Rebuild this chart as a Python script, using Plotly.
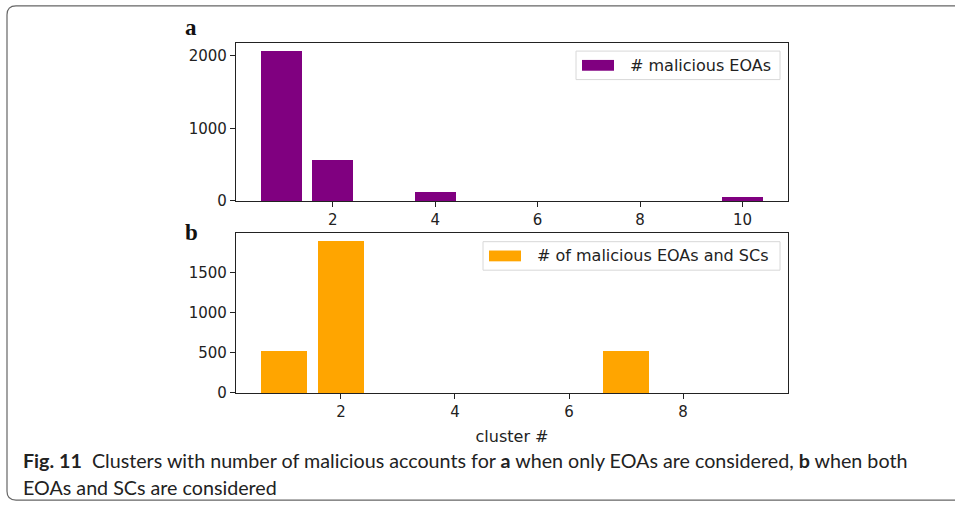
import plotly.graph_objects as go
from plotly.subplots import make_subplots

# Cluster ids and malicious-account counts per cluster
clusters_eoa = [1, 2, 3, 4, 5, 6, 7, 8, 9, 10]
malicious_eoa = [2070, 555, 0, 115, 0, 0, 0, 0, 0, 48]

clusters_eoa_sc = [1, 2, 3, 4, 5, 6, 7, 8, 9]
malicious_eoa_sc = [520, 1890, 0, 0, 0, 0, 520, 0, 0]

ticks_top = [2, 4, 6, 8, 10]
ticks_bottom = [2, 4, 6, 8]
yticks_top = [0, 1000, 2000]
yticks_bottom = [0, 500, 1000, 1500]

label_eoa = "# malicious EOAs"
label_eoa_sc = "# of malicious EOAs and SCs"
xlabel = "cluster #"

PURPLE = "#800080"
ORANGE = "#FFA500"

W, H = 955, 513


def fx(px):
    return px / W


def fy(py):
    return 1 - py / H


fig = make_subplots(rows=2, cols=1)

fig.add_trace(go.Bar(x=clusters_eoa, y=malicious_eoa, width=0.8,
                     marker=dict(color=PURPLE, line=dict(width=0)),
                     showlegend=False, name=label_eoa), row=1, col=1)
fig.add_trace(go.Bar(x=clusters_eoa_sc, y=malicious_eoa_sc, width=0.8,
                     marker=dict(color=ORANGE, line=dict(width=0)),
                     showlegend=False, name=label_eoa_sc), row=2, col=1)

tick_font = dict(family="DejaVu Sans", size=15, color="#222")
axis_common = dict(showline=True, linecolor="#222", linewidth=1.2, mirror=True,
                   ticks="outside", ticklen=5, tickwidth=1.2, tickcolor="#222",
                   showgrid=False, zeroline=False, tickfont=tick_font,
                   fixedrange=True)

fig.update_xaxes(domain=[fx(236), fx(788)], **axis_common)
fig.update_yaxes(**axis_common)

fig.update_xaxes(row=1, col=1, range=[0.11, 10.89], tickvals=ticks_top,
                 ticktext=[str(t) for t in ticks_top])
fig.update_xaxes(row=2, col=1, range=[0.16, 9.84], tickvals=ticks_bottom,
                 ticktext=[str(t) for t in ticks_bottom],
                 title=dict(text=xlabel, standoff=10,
                            font=dict(family="DejaVu Sans", size=16, color="#222")))
fig.update_yaxes(row=1, col=1, domain=[fy(204.5), fy(44)],
                 range=[0, max(malicious_eoa) * 1.05], tickvals=yticks_top)
fig.update_yaxes(row=2, col=1, domain=[fy(400), fy(237.5)],
                 range=[0, max(malicious_eoa_sc) * 1.05], tickvals=yticks_bottom)

shapes = []
annotations = []


def legend_box(x0, x1, y0, y1, color, text):
    shapes.append(dict(type="rect", xref="paper", yref="paper",
                       x0=fx(x0), x1=fx(x1), y0=fy(y1), y1=fy(y0),
                       line=dict(color="#d8d8d8", width=1), fillcolor="rgba(255,255,255,0.8)"))
    ym = (y0 + y1) / 2
    shapes.append(dict(type="rect", xref="paper", yref="paper",
                       x0=fx(x0 + 6), x1=fx(x0 + 38), y0=fy(ym + 5.5), y1=fy(ym - 5.5),
                       line=dict(width=0), fillcolor=color))
    annotations.append(dict(xref="paper", yref="paper", x=fx(x0 + 52), y=fy(ym),
                            xanchor="left", yanchor="middle", showarrow=False,
                            text=text,
                            font=dict(family="DejaVu Sans", size=16, color="#222")))


legend_box(576, 780, 52, 81, PURPLE, label_eoa)
legend_box(483, 780, 246, 275, ORANGE, label_eoa_sc)

# Panel letters
for letter, py in (("a", 28), ("b", 237)):
    annotations.append(dict(xref="paper", yref="paper", x=fx(191), y=fy(py),
                            xanchor="center", yanchor="middle", showarrow=False,
                            text="<b>%s</b>" % letter,
                            font=dict(family="Liberation Serif", size=23, color="#111")))

# Caption
cap_font = dict(family="Lato", size=19.7, color="#222")
annotations.append(dict(xref="paper", yref="paper", x=fx(21), y=fy(468.5),
                        xanchor="left", yanchor="middle", showarrow=False,
                        text="<b>Fig. 11</b>  Clusters with number of malicious accounts for "
                             "<b>a</b> when only EOAs are considered, <b>b</b> when both",
                        font=cap_font))
annotations.append(dict(xref="paper", yref="paper", x=fx(21), y=fy(496.5),
                        xanchor="left", yanchor="middle", showarrow=False,
                        text="EOAs and SCs are considered", font=cap_font))

# Rounded frame around the figure, open past the right edge
r = 9
x0, x1, y0, y1 = 7, 975, 6, 509
path = (f"M {fx(x1)},{fy(y0)} L {fx(x0 + r)},{fy(y0)} "
        f"Q {fx(x0)},{fy(y0)} {fx(x0)},{fy(y0 + r)} "
        f"L {fx(x0)},{fy(y1 - r)} Q {fx(x0)},{fy(y1)} {fx(x0 + r)},{fy(y1)} "
        f"L {fx(x1)},{fy(y1)}")
shapes.append(dict(type="path", xref="paper", yref="paper", path=path,
                   line=dict(color="#666", width=1.2)))

fig.update_layout(width=W, height=H, margin=dict(l=0, r=0, t=0, b=0),
                  paper_bgcolor="white", plot_bgcolor="white",
                  shapes=shapes, annotations=annotations, bargap=0,
                  showlegend=False)

fig.write_html("out.html", config={"displayModeBar": False})
